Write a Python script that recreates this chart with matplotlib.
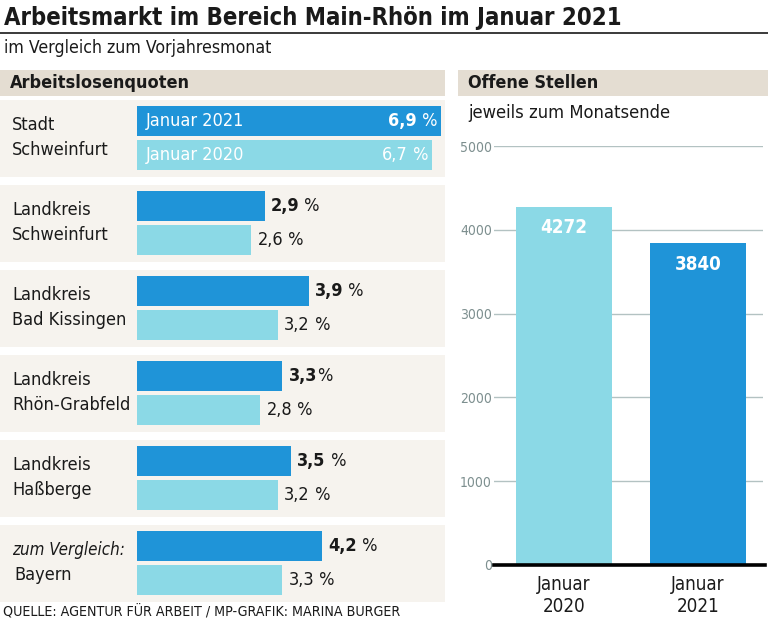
import matplotlib
matplotlib.use("Agg")
import matplotlib.pyplot as plt
from matplotlib import font_manager
from matplotlib.patches import Rectangle
from matplotlib.lines import Line2D

# ---------------- data ----------------
regions = ["Stadt\nSchweinfurt", "Landkreis\nSchweinfurt", "Landkreis\nBad Kissingen",
           "Landkreis\nRhön-Grabfeld", "Landkreis\nHaßberge", "zum Vergleich:\nBayern"]
quote_2021 = [6.9, 2.9, 3.9, 3.3, 3.5, 4.2]
quote_2020 = [6.7, 2.6, 3.2, 2.8, 3.2, 3.3]
label_2021 = ["6,9", "2,9", "3,9", "3,3", "3,5", "4,2"]
label_2020 = ["6,7", "2,6", "3,2", "2,8", "3,2", "3,3"]
suffix_2021 = [" %", " %", " %", "%", " %", " %"]
suffix_2020 = [" %", " %", " %", " %", " %", " %"]
series_names = ["Januar 2021", "Januar 2020"]

stellen_cats = ["Januar\n2020", "Januar\n2021"]
stellen_vals = [4272, 3840]
stellen_ticks = [0, 1000, 2000, 3000, 4000, 5000]

title = "Arbeitsmarkt im Bereich Main-Rhön im Januar 2021"
subtitle = "im Vergleich zum Vorjahresmonat"
left_header = "Arbeitslosenquoten"
right_header = "Offene Stellen"
right_sub = "jeweils zum Monatsende"
source = "QUELLE: AGENTUR FÜR ARBEIT / MP-GRAFIK: MARINA BURGER"

# ---------------- style ----------------
DARK = "#1f94d8"
LIGHT = "#8bd9e6"
GROUP_BG = "#f6f3ee"
HEAD_BG = "#e4ddd2"
TEXT = "#1a1a1a"
TICK_C = "#7d8f8f"
GRID_C = "#b3c2c2"

names = {f.name for f in font_manager.fontManager.ttflist}
FAM = "Liberation Sans Narrow" if "Liberation Sans Narrow" in names else "DejaVu Sans"
STRETCH = "normal" if FAM == "Liberation Sans Narrow" else "condensed"
plt.rcParams["font.family"] = [FAM, "DejaVu Sans"]
plt.rcParams["font.stretch"] = STRETCH

W, H = 768, 622
fig = plt.figure(figsize=(W / 100, H / 100), dpi=100)
fig.patch.set_facecolor("white")
renderer = fig.canvas.get_renderer()


def fx(px):
    return px / W


def fy(py):
    return 1 - py / H


def rect_px(x0, y0, x1, y1):
    return [fx(x0), fy(y1), fx(x1) - fx(x0), fy(y0) - fy(y1)]


def fit(t, target_px):
    w = t.get_window_extent(renderer=renderer).width
    t.set_fontsize(t.get_fontsize() * target_px / w)
    return t


# title & subtitle
fit(fig.text(fx(4), fy(18), title, fontsize=22, fontweight="bold", color=TEXT, va="center", ha="left"), 616)
fig.add_artist(Line2D([0, 1], [fy(33), fy(33)], color="#3a3a3a", lw=1.4))
fit(fig.text(fx(4), fy(48), subtitle, fontsize=12.5, color=TEXT, va="center", ha="left"), 268)

# header bands
fig.add_artist(Rectangle((fx(0), fy(96)), fx(445), fy(70) - fy(96), transform=fig.transFigure,
                         facecolor=HEAD_BG, edgecolor="none", zorder=0))
fig.add_artist(Rectangle((fx(458), fy(96)), fx(768) - fx(458), fy(70) - fy(96), transform=fig.transFigure,
                         facecolor=HEAD_BG, edgecolor="none", zorder=0))
fit(fig.text(fx(10), fy(83), left_header, fontsize=13.5, fontweight="bold", color=TEXT, va="center"), 179)
fit(fig.text(fx(468), fy(83), right_header, fontsize=13.5, fontweight="bold", color=TEXT, va="center"), 130)
fit(fig.text(fx(468), fy(113), right_sub, fontsize=13, color=TEXT, va="center"), 203)
fit(fig.text(fx(3), fy(612), source, fontsize=11, color=TEXT, va="center"), 395)

# ---------------- left: Arbeitslosenquoten ----------------
PX_PER_PCT = 44.0
ZERO_PX = 137
PERIOD = 85.0
C0 = 138.0
TOP, BOT = 100, 603
axl = fig.add_axes(rect_px(0, TOP, 445, BOT))
axl.set_xlim(-ZERO_PX / PX_PER_PCT, (445 - ZERO_PX) / PX_PER_PCT)
axl.set_ylim((BOT - C0) / PERIOD, (TOP - C0) / PERIOD)
axl.axis("off")

n = len(regions)
pos = list(range(n))
off = 17 / PERIOD
bh = 30 / PERIOD
for i in pos:
    axl.axhspan(i - 38 / PERIOD, i + 39 / PERIOD, xmin=0, xmax=1, color=GROUP_BG, zorder=0, lw=0)

axl.barh([p - off for p in pos], quote_2021, height=bh, left=0, color=DARK, zorder=2)
axl.barh([p + off for p in pos], quote_2020, height=bh, left=0, color=LIGHT, zorder=2)

FS_LAB = 13
xlab = -ZERO_PX / PX_PER_PCT + 12 / PX_PER_PCT
for i, name in enumerate(regions):
    first, second = name.split("\n")
    style = "italic" if first.startswith("zum") else "normal"
    axl.text(xlab, i - 13 / PERIOD, first, fontsize=FS_LAB - (0.8 if style == "italic" else 0),
             style=style, color=TEXT, va="center", ha="left")
    axl.text(xlab + (2 / PX_PER_PCT if style == "italic" else 0), i + 12 / PERIOD, second,
             fontsize=FS_LAB, color=TEXT, va="center", ha="left")

FS_VAL = 13
for i in pos:
    if i == 0:
        # labels inside the first bars, in white
        for y, v, lab, suf, nm, bold in [(i - off, quote_2021[i], label_2021[i], suffix_2021[i], series_names[0], True),
                                         (i + off, quote_2020[i], label_2020[i], suffix_2020[i], series_names[1], False)]:
            axl.annotate(nm, xy=(0, y), xytext=(6, 0), textcoords="offset points",
                         fontsize=FS_VAL, color="white", va="center", ha="left", zorder=3)
            t_suf = axl.annotate(suf, xy=(v, y), xytext=(-2.5, 0), textcoords="offset points",
                                 fontsize=FS_VAL, color="white", va="center", ha="right", zorder=3)
            axl.annotate(lab, xy=(0, 0.5), xycoords=t_suf, fontsize=FS_VAL, color="white",
                         fontweight="bold" if bold else "normal", va="center", ha="right", zorder=3)
    else:
        t = axl.annotate(label_2021[i], xy=(quote_2021[i], i - off), xytext=(4.5, 0), textcoords="offset points",
                         fontsize=FS_VAL, fontweight="bold", color=TEXT, va="center", ha="left")
        axl.annotate(suffix_2021[i], xy=(1, 0.5), xycoords=t, fontsize=FS_VAL, color=TEXT, va="center", ha="left")
        t2 = axl.annotate(label_2020[i], xy=(quote_2020[i], i + off), xytext=(4.5, 0), textcoords="offset points",
                          fontsize=FS_VAL, color=TEXT, va="center", ha="left")
        axl.annotate(suffix_2020[i], xy=(1, 0.5), xycoords=t2, fontsize=FS_VAL, color=TEXT, va="center", ha="left")

# ---------------- right: Offene Stellen ----------------
X_LEFT, X_RIGHT = 494, 763
CEN0, SPAN = 564, 134
axr = fig.add_axes(rect_px(X_LEFT, 146, X_RIGHT, 565))
axr.set_xlim((X_LEFT - CEN0) / SPAN, (X_RIGHT - CEN0) / SPAN)
axr.set_ylim(stellen_ticks[0], stellen_ticks[-1])
for s in axr.spines.values():
    s.set_visible(False)
axr.set_yticks(stellen_ticks)
axr.set_yticklabels([str(t) for t in stellen_ticks])
axr.tick_params(axis="y", length=0, pad=1.5, labelsize=10, labelcolor=TICK_C)
axr.set_xticks(range(len(stellen_cats)))
axr.set_xticklabels(stellen_cats, fontsize=13.5, color=TEXT, linespacing=1.25)
axr.tick_params(axis="x", length=0, pad=7)
axr.grid(axis="y", color=GRID_C, lw=1.0, zorder=0)
axr.set_axisbelow(True)
axr.bar(range(len(stellen_vals)), stellen_vals, width=96 / SPAN, color=[LIGHT, DARK], zorder=2)
axr.axhline(0, xmin=0, xmax=1.008, color="black", lw=2.6, zorder=4, clip_on=False)
for i, v in enumerate(stellen_vals):
    axr.annotate(str(v), xy=(i, v), xytext=(0, -15), textcoords="offset points",
                 fontsize=13.5, fontweight="bold", color="white", va="center", ha="center", zorder=3)

fig.savefig("out.png", dpi=100, facecolor="white")
